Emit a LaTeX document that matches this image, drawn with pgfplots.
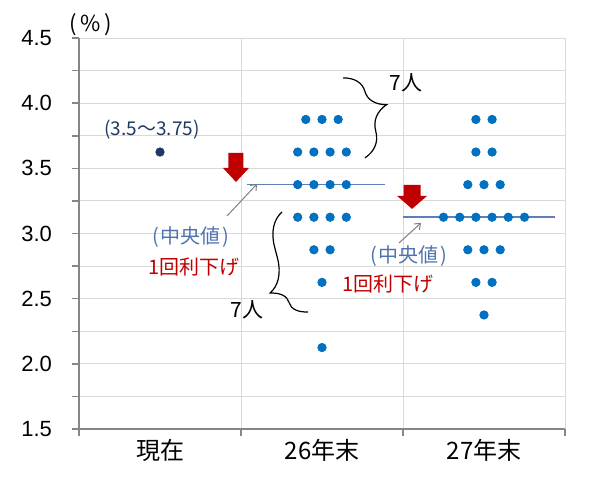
\documentclass[border=0pt]{standalone}
\usepackage{fontspec}
\setmainfont{Liberation Sans}
\newfontfamily\jp{Noto Sans CJK JP}
\usepackage{pgfplots}
\pgfplotsset{compat=1.18}
\usetikzlibrary{decorations.pathreplacing,arrows.meta}

\definecolor{dotblue}{HTML}{0070C0}
\definecolor{navy}{HTML}{1F3864}
\definecolor{medline}{HTML}{5F7FB5}
\definecolor{medtext}{HTML}{4F73AD}
\definecolor{arrowred}{HTML}{C00000}
\definecolor{gridgray}{HTML}{D9D9D9}
\definecolor{axisgray}{HTML}{868686}

\begin{document}
\begin{tikzpicture}
\useasboundingbox (-39.5bp,-26bp) rectangle (260.5bp,214.5bp);
\begin{axis}[
    scale only axis,
    width=243bp, height=195.5bp,
    xmin=-0.5, xmax=2.5, ymin=1.5, ymax=4.5,
    clip=false,
    axis x line*=bottom, axis y line*=left,
    axis line style={axisgray, line width=0.75bp},
    tick align=outside,
    tick style={axisgray, line width=0.75bp},
    major tick length=3.5bp, minor tick length=3.5bp,
    xtick={-0.5,0.5,1.5,2.5}, xticklabels={},
    extra x ticks={0,1,2},
    extra x tick labels={現在,26年末,27年末},
    extra x tick style={major tick length=0pt, grid=none,
        tick label style={font=\jp\fontsize{12bp}{14bp}\selectfont, yshift=-1.5bp}},
    ytick={1.5,2,2.5,3,3.5,4,4.5},
    minor y tick num=1,
    xmajorgrids, ymajorgrids, yminorgrids,
    grid style={gridgray, line width=0.5bp},
    minor grid style={gridgray, line width=0.5bp},
    yticklabel style={/pgf/number format/.cd, fixed, fixed zerofill, precision=1,
        assume math mode=true, /tikz/.cd,
        font=\fontsize{11bp}{12bp}\selectfont, xshift=-6.5bp},
]

% median lines
\addplot[medline, line width=0.8bp] coordinates {(0.537,3.375) (1.389,3.375)};
\addplot[medline, line width=0.8bp] coordinates {(1.5,3.125) (2.438,3.125)};

% current rate
\addplot[only marks, mark=*, mark size=2.1bp, color=navy] coordinates {(0,3.625)};

% 26年末
\addplot[only marks, mark=*, mark size=2.1bp, color=dotblue] coordinates {
    (0.9,3.875) (1.0,3.875) (1.1,3.875)
    (0.85,3.625) (0.95,3.625) (1.05,3.625) (1.15,3.625)
    (0.85,3.375) (0.95,3.375) (1.05,3.375) (1.15,3.375)
    (0.85,3.125) (0.95,3.125) (1.05,3.125) (1.15,3.125)
    (0.95,2.875) (1.05,2.875)
    (1.0,2.625)
    (1.0,2.125)
};

% 27年末
\addplot[only marks, mark=*, mark size=2.1bp, color=dotblue] coordinates {
    (1.95,3.875) (2.05,3.875)
    (1.95,3.625) (2.05,3.625)
    (1.9,3.375) (2.0,3.375) (2.1,3.375)
    (1.75,3.125) (1.85,3.125) (1.95,3.125) (2.05,3.125) (2.15,3.125) (2.25,3.125)
    (1.9,2.875) (2.0,2.875) (2.1,2.875)
    (1.95,2.625) (2.05,2.625)
    (2.0,2.375)
};

% annotations
\node[font=\jp\fontsize{11bp}{12bp}\selectfont] at (axis cs:-0.426,4.60) {(\,\%\,)};
\node[font=\jp\fontsize{9.5bp}{11bp}\selectfont, text=navy] at (axis cs:-0.049,3.795) {(3.5〜3.75)};

\fill[arrowred] (axis cs:0.469,3.618) +(-3.75bp,0bp) -- +(3.75bp,0bp) -- +(3.75bp,-7.5bp)
    -- +(6.5bp,-7.5bp) -- +(0bp,-14.5bp) -- +(-6.5bp,-7.5bp) -- +(-3.75bp,-7.5bp) -- cycle;
\fill[arrowred] (axis cs:1.556,3.373) +(-4.25bp,0bp) -- +(4.25bp,0bp) -- +(4.25bp,-5.5bp)
    -- +(7.5bp,-5.5bp) -- +(0bp,-12bp) -- +(-7.5bp,-5.5bp) -- +(-4.25bp,-5.5bp) -- cycle;

\draw[gray, line width=0.5bp, -{Straight Barb[length=2.5bp,width=4bp]}]
    (axis cs:0.414,3.135) -- (axis cs:0.599,3.380);
\draw[gray, line width=0.5bp, -{Straight Barb[length=2.5bp,width=4bp]}]
    (axis cs:1.475,2.927) -- (axis cs:1.611,3.081);

\node[font=\jp\fontsize{10bp}{12bp}\selectfont, text=medtext] at (axis cs:0.191,2.973) {(\kern1bp 中央値\kern1bp)};
\node[font=\jp\fontsize{10bp}{12bp}\selectfont, text=arrowred] at (axis cs:0.21,2.743) {1回利下げ};
\node[font=\jp\fontsize{10bp}{12bp}\selectfont, text=medtext] at (axis cs:1.537,2.828) {(\kern1bp 中央値\kern1bp)};
\node[font=\jp\fontsize{10bp}{12bp}\selectfont, text=arrowred] at (axis cs:1.407,2.613) {1回利下げ};

\draw[decorate, decoration={brace, amplitude=17.5bp, aspect=0.45}, line width=0.6bp]
    (axis cs:1.130,4.194) -- (axis cs:1.265,3.580);
\draw[decorate, decoration={brace, amplitude=16bp, aspect=0.27}, line width=0.6bp]
    (axis cs:0.914,2.398) -- (axis cs:0.753,3.165);
\node[font=\jp\fontsize{10.5bp}{12bp}\selectfont] at (axis cs:1.519,4.154) {7人};
\node[font=\jp\fontsize{10.5bp}{12bp}\selectfont] at (axis cs:0.537,2.413) {7人};

\end{axis}
\end{tikzpicture}
\end{document}
